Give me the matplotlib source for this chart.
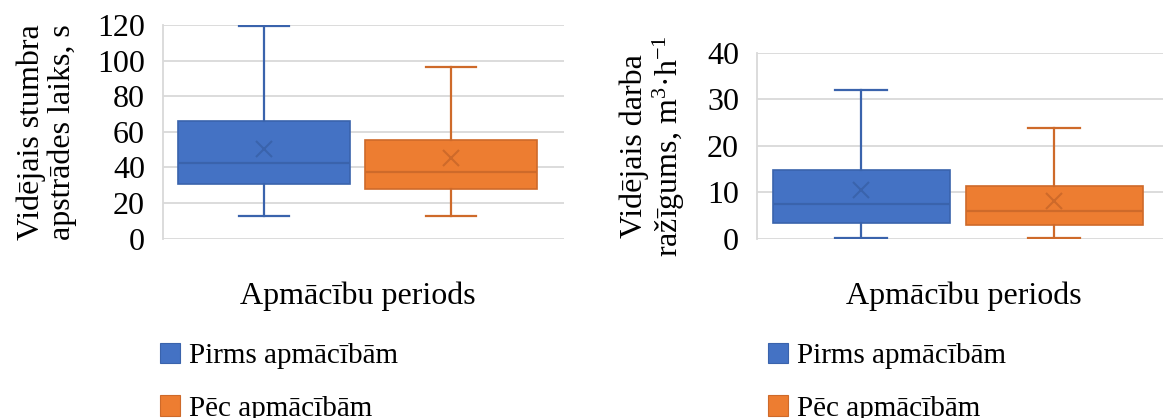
import matplotlib
matplotlib.use("Agg")
import matplotlib.pyplot as plt
from matplotlib.patches import Patch

# ---- data ----
series = ["Pirms apmācībām", "Pēc apmācībām"]
colors = ["#4472C4", "#ED7D31"]
edge_colors = ["#3A63AC", "#CE6A2A"]

time_whislo = [12.5, 12.8]
time_q1 = [30.5, 28.0]
time_med = [42.6, 37.5]
time_q3 = [66.2, 55.4]
time_whishi = [119.4, 96.2]
time_mean = [50.1, 45.1]
time_ticks = [0, 20, 40, 60, 80, 100, 120]

prod_whislo = [0.2, 0.15]
prod_q1 = [3.3, 2.95]
prod_med = [7.5, 6.0]
prod_q3 = [14.8, 11.4]
prod_whishi = [32.0, 23.9]
prod_mean = [10.5, 8.1]
prod_ticks = [0, 10, 20, 30, 40]

xlabel = "Apmācību periods"
ylabel_time = "Vidējais stumbra\napstrādes laiks, s"
ylabel_prod = "Vidējais darba\nražīgums, m$^{3}$·h$^{-1}$"

FAMILY = ["Liberation Serif", "DejaVu Serif"]
plt.rcParams["font.family"] = FAMILY
plt.rcParams["mathtext.fontset"] = "custom"
plt.rcParams["mathtext.rm"] = "Liberation Serif"
plt.rcParams["mathtext.it"] = "Liberation Serif:italic"
FS = 23
LFS = 21

W, H = 1163, 418
fig = plt.figure(figsize=(W / 100, H / 100), dpi=100)


def px_axes(x0, x1, ytop, ybot):
    return fig.add_axes([x0 / W, 1 - ybot / H, (x1 - x0) / W, (ybot - ytop) / H])


def draw(ax, lo, q1, med, q3, hi, mean, ticks, ylabel, ylab_x, xlab_x, xlab_y):
    positions = [0.252, 0.718]
    width = 0.428
    for i in range(len(series)):
        st = [dict(whislo=lo[i], q1=q1[i], med=med[i], q3=q3[i], whishi=hi[i],
                   mean=mean[i], fliers=[])]
        ax.bxp(st, positions=[positions[i]], widths=width, capwidths=0.125,
               patch_artist=True, showmeans=True, showfliers=False,
               boxprops=dict(facecolor=colors[i], edgecolor=edge_colors[i], linewidth=1.2),
               medianprops=dict(color=edge_colors[i], linewidth=1.6),
               whiskerprops=dict(color=edge_colors[i], linewidth=1.6),
               capprops=dict(color=edge_colors[i], linewidth=1.6),
               meanprops=dict(marker="x", markersize=12, markeredgecolor=edge_colors[i],
                              markeredgewidth=1.5, markerfacecolor="none"),
               zorder=3)
    ax.set_xlim(0, 1)
    ax.set_ylim(ticks[0], ticks[-1])
    ax.set_yticks(ticks)
    ax.set_xticks([])
    ax.grid(axis="y", color="#D9D9D9", linewidth=1.3, zorder=0)
    ax.set_axisbelow(True)
    for s in ["top", "right", "bottom"]:
        ax.spines[s].set_visible(False)
    ax.spines["left"].set_color("#D9D9D9")
    ax.spines["left"].set_linewidth(1.3)
    ax.tick_params(axis="y", length=0, pad=13, labelsize=FS)
    ax.set_ylabel(ylabel, fontsize=FS, linespacing=1.05)
    ax.yaxis.set_label_coords(ylab_x, 0.5)
    ax.set_xlabel(xlabel, fontsize=FS)
    ax.xaxis.set_label_coords(xlab_x, xlab_y)


ax1 = px_axes(163, 564, 25, 238.5)
draw(ax1, time_whislo, time_q1, time_med, time_q3, time_whishi, time_mean,
     time_ticks, ylabel_time, -0.215, 0.487, -0.2)

ax2 = px_axes(757, 1171, 53, 238.7)
draw(ax2, prod_whislo, prod_q1, prod_med, prod_q3, prod_whishi, prod_mean,
     prod_ticks, ylabel_prod, -0.17, 0.5, -0.23)

handles = [Patch(facecolor=colors[i], edgecolor=edge_colors[i], linewidth=0.8)
           for i in range(len(series))]
for xleft in (160, 768):
    fig.legend(handles, series, loc="upper left",
               bbox_to_anchor=(xleft / W, 1 - 343 / H),
               frameon=False, prop=dict(family=FAMILY, size=LFS),
               handlelength=0.68, handleheight=0.68,
               handletextpad=0.3, labelspacing=0.9, borderpad=0, borderaxespad=0)

fig.savefig("out.png", dpi=100)
